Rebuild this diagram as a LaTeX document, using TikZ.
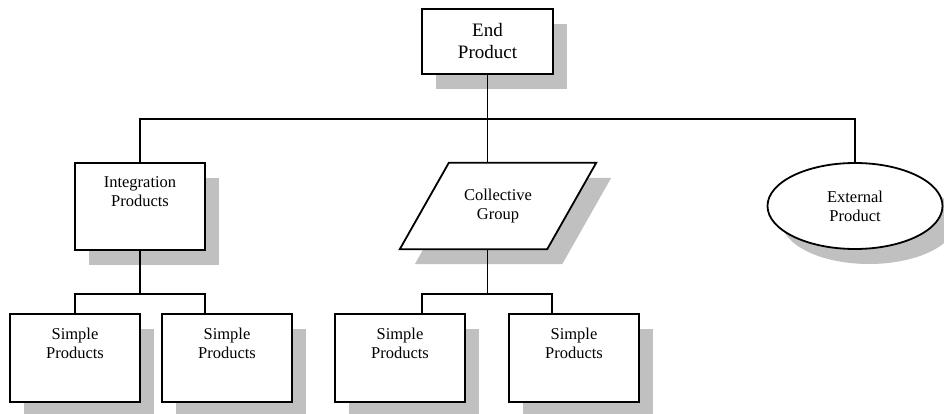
\documentclass[tikz,border=0pt]{standalone}
\usepackage{fontspec}
\setmainfont{Liberation Serif}
\usetikzlibrary{shadows,shapes.geometric,calc,backgrounds}
\definecolor{shadegray}{RGB}{192,192,192}
\tikzset{
  line/.style={line width=1.8pt},
  lbl/.style={align=center, font=\fontsize{16.5}{19}\selectfont},
  biglbl/.style={align=center, font=\fontsize{19}{22}\selectfont},
  dropped/.style={drop shadow={shadow xshift=14pt, shadow yshift=-15pt,
      opacity=1, fill=shadegray, draw=none}},
  unitbox/.style={draw, line, fill=white, dropped, rectangle},
  toptext/.style={lbl, anchor=north, inner sep=0pt},
}
\begin{document}
\begin{tikzpicture}[x=1pt,y=1pt]
\clip (0,0) rectangle (944,-414);

% root
\node[unitbox, biglbl, minimum width=131, minimum height=65] (ep) at (487.5,-41.5) {End\\Product};

% second level
\node[unitbox, minimum width=130, minimum height=87] (ip) at (140,-206.5) {};
\node[toptext] (ipt) at ($(ip.north)+(0,-14)$) {Integration\\Products};

\node[lbl, inner sep=0pt, minimum width=196, minimum height=86] (cg) at (498,-206) {Collective\\Group};
\begin{scope}[on background layer]
  \fill[shadegray] ($(cg.north west)+(64,-15)$) -- ($(cg.north east)+(15,-15)$)
    -- ($(cg.south east)+(-34,-15)$) -- ($(cg.south west)+(15,-15)$) -- cycle;
  \filldraw[line, fill=white, line join=miter] ($(cg.north west)+(49,0)$) -- (cg.north east)
    -- ($(cg.south east)+(-49,0)$) -- (cg.south west) -- cycle;
\end{scope}

\node[ellipse, draw, line, fill=white, dropped, lbl, minimum width=175, minimum height=86] (ext) at (855,-206) {External\\Product};

% leaves
\foreach \n/\x in {s1/75, s2/227, s3/400, s4/574} {
  \node[unitbox, minimum width=130, minimum height=88] (\n) at (\x,-358) {};
  \node[toptext] (\n t) at ($(\n.north)+(0,-15)$) {Simple\\Products};
}

% connectors, upper level
\coordinate (hub) at ($(ep.south)+(0,-44)$);
\draw[line] (ep.south) -- (hub);
\draw[line] (hub) -| (ip.north);
\draw[line] (hub) -| (ext.north);
\draw[line] (hub) -- (hub |- cg.north);

% connectors, lower level
\coordinate (lh) at ($(ip.south)+(0,-43)$);
\draw[line] (ip.south) -- (lh) -| (s1.north);
\draw[line] (lh) -| ($(s2.north)+(-22,0)$);

\coordinate (cgb) at (hub |- cg.south);
\coordinate (ch) at (hub |- lh);
\draw[line] (cgb) -- (ch) -| ($(s3.north)+(22,0)$);
\draw[line] (ch) -| ($(s4.north)+(-22,0)$);
\end{tikzpicture}
\end{document}
